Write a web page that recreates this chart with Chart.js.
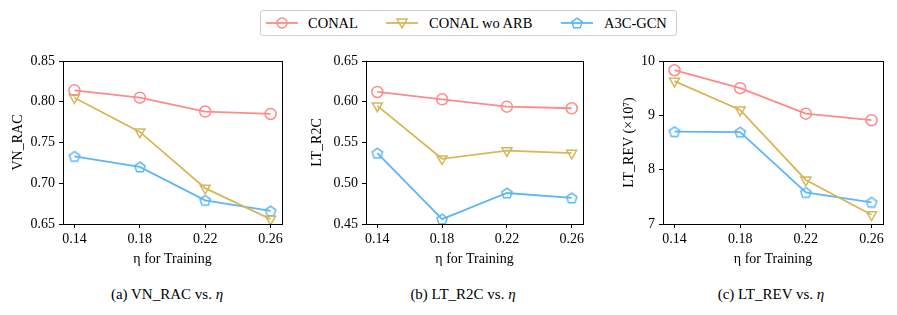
<!DOCTYPE html>
<html lang="en">
<head>
    <meta charset="UTF-8">
    <title>Sensitivity to eta</title>
    <script src="https://cdn.jsdelivr.net/npm/chart.js"></script>
    <style>
        body { margin: 0; background: #fff; font-family: "Liberation Serif", "Times New Roman", serif; }
        #wrap { position: relative; width: 897px; height: 315px; }
        .panel { position: absolute; top: 45px; }
        .cap { position: absolute; top: 286px; font-size: 15px; transform: translateX(-50%); white-space: nowrap; }
        #legend { position: absolute; left: 260px; top: 10px; width: 415px; height: 24px;
                  border: 1px solid #d0d0d0; border-radius: 3px; }
        .li { position: absolute; top: 0; height: 24px; font-size: 14.5px; line-height: 24px; }
        .li canvas { position: absolute; top: 5px; }
        .li span { position: absolute; white-space: nowrap; }
    </style>
</head>
<body>
<div id="wrap">
    <div id="legend"></div>
    <div class="panel" style="left:0px"><canvas id="c1" width="300" height="230"></canvas></div>
    <div class="panel" style="left:300px"><canvas id="c2" width="300" height="230"></canvas></div>
    <div class="panel" style="left:600px"><canvas id="c3" width="297" height="230"></canvas></div>
    <div class="cap" style="left:167px">(a) VN_RAC vs. <i>η</i></div>
    <div class="cap" style="left:463px">(b) LT_R2C vs. <i>η</i></div>
    <div class="cap" style="left:771px">(c) LT_REV vs. <i>η</i></div>
</div>

<script>
    // eta values used for training
    const etas = [0.14, 0.18, 0.22, 0.26];
    const seriesNames = ["CONAL", "CONAL wo ARB", "A3C-GCN"];
    const colors = ["#ff8a8a", "#d8b65a", "#5db6f6"];

    // (a) VN_RAC
    const vnConal = [0.814, 0.805, 0.788, 0.785];
    const vnNoArb = [0.805, 0.763, 0.694, 0.656];
    const vnA3c   = [0.733, 0.720, 0.679, 0.666];
    const vnTicks = [0.65, 0.70, 0.75, 0.80, 0.85];

    // (b) LT_R2C
    const r2cConal = [0.612, 0.603, 0.594, 0.592];
    const r2cNoArb = [0.595, 0.530, 0.540, 0.537];
    const r2cA3c   = [0.537, 0.456, 0.488, 0.482];
    const r2cTicks = [0.45, 0.50, 0.55, 0.60, 0.65];

    // (c) LT_REV (x10^7)
    const revConal = [9.83, 9.50, 9.03, 8.91];
    const revNoArb = [9.63, 9.10, 7.81, 7.17];
    const revA3c   = [8.70, 8.69, 7.58, 7.40];
    const revTicks = [7, 8, 9, 10];

    const font = { family: "'Liberation Serif', 'Times New Roman', serif", size: 14 };

    function pentagon(color) {
        const c = document.createElement("canvas");
        c.width = 14; c.height = 14;
        const g = c.getContext("2d");
        g.strokeStyle = color; g.lineWidth = 1.5;
        g.beginPath();
        for (let i = 0; i < 5; i++) {
            const a = -Math.PI / 2 + i * 2 * Math.PI / 5;
            const px = 7 + 5.4 * Math.cos(a), py = 7.5 + 5.4 * Math.sin(a);
            if (i === 0) g.moveTo(px, py); else g.lineTo(px, py);
        }
        g.closePath(); g.stroke();
        return c;
    }

    const markers = [
        { style: "circle", rot: 0, r: 5.5 },
        { style: "triangle", rot: 180, r: 5.8 },
        { style: pentagon(colors[2]), rot: 0, r: 5 }
    ];

    function pts(vals) {
        return vals.map((v, i) => ({ x: etas[i], y: v }));
    }

    function ds(i, vals) {
        return {
            label: seriesNames[i],
            data: pts(vals),
            borderColor: colors[i],
            backgroundColor: "transparent",
            borderWidth: 1.8,
            pointStyle: markers[i].style,
            pointRotation: markers[i].rot,
            pointRadius: markers[i].r,
            pointBorderWidth: 1.5,
            pointBorderColor: colors[i],
            pointBackgroundColor: "transparent",
            showLine: true,
            tension: 0
        };
    }

    const frame = {
        id: "frame",
        afterDatasetsDraw(chart) {
            const { ctx, chartArea: a } = chart;
            ctx.save();
            ctx.strokeStyle = "#000";
            ctx.lineWidth = 1;
            const l = Math.round(a.left) + 0.5, t = Math.round(a.top) + 0.5;
            ctx.strokeRect(l, t, Math.round(a.right) - Math.round(a.left), Math.round(a.bottom) - Math.round(a.top));
            ctx.restore();
        }
    };

    function makeChart(id, sets, yTicks, yTitle, titlePad, yWidth, rightPad, fmt) {
        return new Chart(document.getElementById(id), {
            type: "scatter",
            data: { datasets: sets },
            options: {
                responsive: false,
                animation: false,
                layout: { padding: { top: 16, right: rightPad, left: 0, bottom: 7 } },
                plugins: { legend: { display: false }, tooltip: { enabled: false } },
                scales: {
                    x: {
                        type: "linear",
                        min: 0.133,
                        max: 0.267,
                        afterBuildTicks: s => { s.ticks = etas.map(v => ({ value: v })); },
                        afterFit: s => { s.height = 44; },
                        ticks: { callback: v => v.toFixed(2), color: "#000", font: font, padding: 3, maxRotation: 0, autoSkip: false },
                        grid: { drawOnChartArea: false, color: "#000", tickLength: 4 },
                        border: { display: false },
                        title: { display: true, text: "η for Training", color: "#000", font: font, padding: { top: 0, bottom: 0 } }
                    },
                    y: {
                        min: yTicks[0],
                        max: yTicks[yTicks.length - 1],
                        afterBuildTicks: s => { s.ticks = yTicks.map(v => ({ value: v })); },
                        afterFit: s => { s.width = yWidth; },
                        ticks: { callback: fmt, color: "#000", font: font, padding: 4, autoSkip: false },
                        grid: { drawOnChartArea: false, color: "#000", tickLength: 4 },
                        border: { display: false },
                        title: { display: true, text: yTitle, color: "#000", font: font, padding: { top: titlePad, bottom: 0 } }
                    }
                }
            },
            plugins: [frame]
        });
    }

    makeChart("c1", [ds(0, vnConal), ds(1, vnNoArb), ds(2, vnA3c)], vnTicks, "VN_RAC", 10, 63, 18, v => v.toFixed(2));
    makeChart("c2", [ds(0, r2cConal), ds(1, r2cNoArb), ds(2, r2cA3c)], r2cTicks, "LT_R2C", 9, 66, 17, v => v.toFixed(2));
    makeChart("c3", [ds(0, revConal), ds(1, revNoArb), ds(2, revA3c)], revTicks, "LT_REV (×10⁷)", 21, 63, 14, v => String(v));

    // shared legend at the top
    const legendPos = [{ line: 5, text: 47 }, { line: 125, text: 168 }, { line: 300, text: 343 }];
    const legend = document.getElementById("legend");
    seriesNames.forEach((name, i) => {
        const item = document.createElement("div");
        item.className = "li";
        item.style.left = legendPos[i].line + "px";
        const c = document.createElement("canvas");
        c.width = 32; c.height = 14;
        const g = c.getContext("2d");
        g.strokeStyle = colors[i]; g.lineWidth = 1.8;
        g.beginPath(); g.moveTo(0, 7); g.lineTo(32, 7); g.stroke();
        g.lineWidth = 1.5;
        if (i === 0) {
            g.beginPath(); g.arc(16, 7, 5, 0, Math.PI * 2); g.stroke();
        } else if (i === 1) {
            g.beginPath(); g.moveTo(11, 3); g.lineTo(21, 3); g.lineTo(16, 12); g.closePath(); g.stroke();
        } else {
            g.drawImage(pentagon(colors[2]), 9, 0);
        }
        item.appendChild(c);
        const sp = document.createElement("span");
        sp.textContent = name;
        sp.style.left = (legendPos[i].text - legendPos[i].line) + "px";
        item.appendChild(sp);
        legend.appendChild(item);
    });
</script>
</body>
</html>
